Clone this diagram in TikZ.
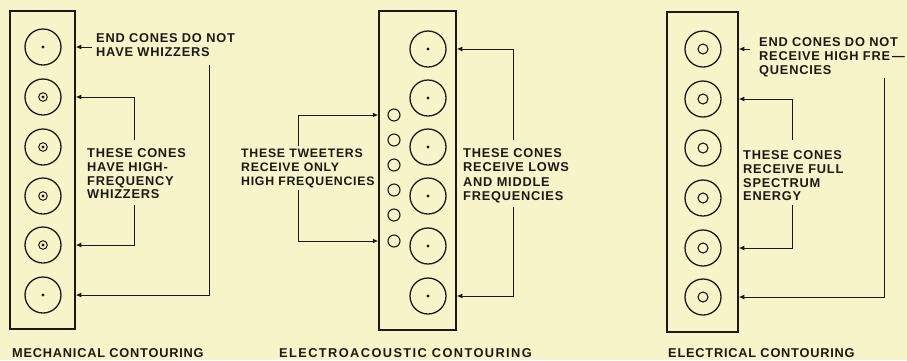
\documentclass[tikz,border=0pt]{standalone}
\usepackage{fontspec}
\setmainfont{Liberation Sans}[LetterSpace=6]
\usetikzlibrary{arrows.meta}
\definecolor{paper}{RGB}{248,244,202}
\definecolor{ink}{RGB}{28,25,20}
\tikzset{
  cabinet/.style={draw=ink, line width=1.5pt, rectangle, inner sep=0pt},
  cone/.style={draw=ink, line width=1.3pt, circle, inner sep=0pt, minimum size=36pt},
  tweeter/.style={draw=ink, line width=1.1pt, circle, inner sep=0pt, minimum size=12pt},
  conn/.style={draw=ink, line width=1pt},
  feed/.style={conn, -{Latex[length=5.5pt,width=5pt]}},
  lbl/.style={anchor=north west, inner sep=0pt, align=left, text=ink,
     font=\bfseries\fontsize{12.8}{14}\selectfont},
  captext/.style={anchor=west, inner sep=0pt, text=ink, font=\bfseries\fontsize{12.8}{14}\selectfont},
}
\begin{document}
\begin{tikzpicture}[x=1pt,y=-1pt]
\fill[paper] (0,0) rectangle (907,360);
\useasboundingbox (0,0) rectangle (907,360);

% ---------------- Mechanical
\node[cabinet, minimum width=65pt, minimum height=318pt] (boxA) at (42.5,170) {};
\foreach \n/\y in {1/47,2/97,3/147,4/196,5/245,6/295}
  \node[cone] (a\n) at (43,\y) {};
\foreach \n in {2,3,4,5} {
  \draw[ink, line width=1pt] (a\n) circle (4.3);
  \fill[ink] (a\n) circle (1.7);
}
\fill[ink] (a1) circle (1.6);
\fill[ink] (a6) circle (1.6);

\node[lbl] (tA1) at (96,33.5) {END CONES DO NOT\\HAVE WHIZZERS};
\node[lbl, font=\bfseries\fontsize{12.8}{13.7}\selectfont] (tA2) at (87,148.5) {THESE CONES\\HAVE HIGH-\\FREQUENCY\\WHIZZERS};

\coordinate (pA1) at (92,47);
\coordinate (pA2) at (209,65);
\coordinate (pA3) at (134,140);
\coordinate (pA4) at (134,205);
\draw[feed] (pA1) -- (boxA.east |- a1);
\draw[feed] (pA2) -- (pA2 |- a6) -- (boxA.east |- a6);
\draw[feed] (pA3) -- (pA3 |- a2) -- (boxA.east |- a2);
\draw[feed] (pA4) -- (pA4 |- a5) -- (boxA.east |- a5);

\node[captext] (cA) at (12,353) {MECHANICAL CONTOURING};

% ---------------- Electroacoustic
\node[cabinet, minimum width=77pt, minimum height=319pt] (boxB) at (417.5,170.5) {};
\foreach \n/\y in {1/49,2/98,3/147,4/196,5/246,6/296} {
  \node[cone] (b\n) at (428,\y) {};
  \fill[ink] (b\n) circle (1.7);
}
\foreach \n/\y in {1/115,2/140,3/165,4/190,5/215,6/241}
  \node[tweeter] (w\n) at (394,\y) {};

\node[lbl, font=\bfseries\fontsize{12.3}{14}\selectfont] (tB1) at (241,148.5) {THESE TWEETERS\\RECEIVE ONLY\\HIGH FREQUENCIES};
\node[lbl, font=\bfseries\fontsize{12.8}{14.3}\selectfont] (tB2) at (463,148.5) {THESE CONES\\RECEIVE LOWS\\AND MIDDLE\\FREQUENCIES};

\coordinate (pB1) at (298,146);
\coordinate (pB2) at (298,190);
\coordinate (pB3) at (513,140);
\coordinate (pB4) at (513,207);
\draw[feed] (pB1) -- (pB1 |- w1) -- (boxB.west |- w1);
\draw[feed] (pB2) -- (pB2 |- w6) -- (boxB.west |- w6);
\draw[feed] (pB3) -- (pB3 |- b1) -- (boxB.east |- b1);
\draw[feed] (pB4) -- (pB4 |- b6) -- (boxB.east |- b6);

\node[captext] (cB) at (279,353) {\addfontfeatures{LetterSpace=11}ELECTROACOUSTIC CONTOURING};

% ---------------- Electrical
\node[cabinet, minimum width=71pt, minimum height=320pt] (boxC) at (702.5,172) {};
\foreach \n/\y in {1/49,2/99,3/148,4/198,5/248,6/297} {
  \node[cone] (c\n) at (703,\y) {};
  \draw[ink, line width=1.1pt] (c\n) circle (5);
}

\node[lbl] (tC1) at (759,37.5) {END CONES DO NOT\\RECEIVE HIGH FRE\,---\\QUENCIES};
\node[lbl, font=\bfseries\fontsize{12.8}{13.7}\selectfont] (tC2) at (743,150.5) {THESE CONES\\RECEIVE FULL\\SPECTRUM\\ENERGY};

\coordinate (pC1) at (750,49);
\coordinate (pC2) at (884,78);
\coordinate (pC3) at (792,140);
\coordinate (pC4) at (792,205);
\draw[feed] (pC1) -- (boxC.east |- c1);
\draw[feed] (pC2) -- (pC2 |- c6) -- (boxC.east |- c6);
\draw[feed] (pC3) -- (pC3 |- c2) -- (boxC.east |- c2);
\draw[feed] (pC4) -- (pC4 |- c5) -- (boxC.east |- c5);

\node[captext] (cC) at (668,353) {ELECTRICAL CONTOURING};
\end{tikzpicture}
\end{document}
